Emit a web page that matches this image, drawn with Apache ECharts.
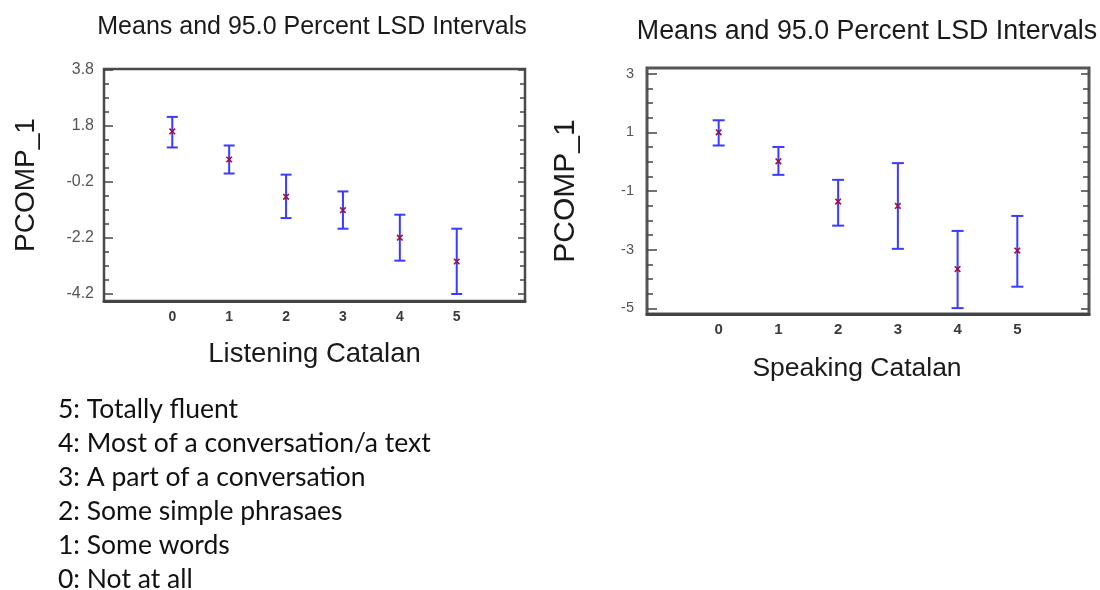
<!DOCTYPE html>
<html>
<head>
<meta charset="utf-8">
<script src="https://cdn.jsdelivr.net/npm/echarts@6/dist/echarts.min.js"></script>
<style>
  html, body { margin: 0; padding: 0; background: #ffffff; }
  #chart { width: 1100px; height: 590px; }
</style>
</head>
<body>
<div id="chart"></div>
<script>
// Fluency levels on the x axis
const levels = [0, 1, 2, 3, 4, 5];

// Listening Catalan: group means with 95% LSD interval bounds
const listeningMean  = [1.60, 0.60, -0.73, -1.21, -2.19, -3.04];
const listeningLower = [1.03, 0.10, -1.49, -1.87, -3.01, -4.20];
const listeningUpper = [2.12, 1.10, 0.06, -0.54, -1.37, -1.87];

// Speaking Catalan: group means with 95% LSD interval bounds
const speakingMean  = [1.00, 0.01, -1.36, -1.51, -3.66, -3.03];
const speakingLower = [0.55, -0.45, -2.18, -2.97, -4.99, -4.26];
const speakingUpper = [1.41, 0.50, -0.62, -0.05, -2.36, -1.85];

// Labelled y ticks of each panel
const listeningTicks = [3.8, 1.8, -0.2, -2.2, -4.2];
const speakingTicks = [3, 1, -1, -3, -5];

// Meaning of each level
const levelDescriptions = [
  '5: Totally fluent',
  '4: Most of a conversation/a text',
  '3: A part of a conversation',
  '2: Some simple phrasaes',
  '1: Some words',
  '0: Not at all'
];

const titleText = 'Means and 95.0 Percent LSD Intervals';
const yName = 'PCOMP_1';

function rows(mean, lower, upper) {
  return levels.map((lv, i) => [lv, lower[i], upper[i], mean[i]]);
}

function minorTicks(labels, step) {
  const lo = Math.min(...labels), hi = Math.max(...labels);
  const out = [];
  for (let k = 0; lo + k * step <= hi + 1e-9; k++) out.push(+(lo + k * step).toFixed(3));
  return out;
}

function yAxesFor(gridIndex, min, max, labels, decimals, opts) {
  const common = {
    type: 'value', gridIndex, min, max,
    splitLine: { show: false },
    axisLine: { show: false, onZero: false }
  };
  const minor = minorTicks(labels, 0.5);
  const tickStyle = { color: '#444', width: 1.5 };
  return [
    Object.assign({}, common, {
      position: 'left',
      name: yName, nameLocation: 'middle', nameGap: opts.nameGap,
      nameTextStyle: { fontFamily: 'Liberation Sans', fontSize: opts.nameSize, color: '#1a1a1a' },
      axisTick: { show: true, inside: true, length: opts.major, customValues: labels, lineStyle: tickStyle },
      axisLabel: { show: true, customValues: labels, margin: opts.labelMargin,
        formatter: v => Number(v).toFixed(decimals),
        fontFamily: 'Liberation Sans', fontSize: opts.labelSize, color: '#555' }
    }),
    Object.assign({}, common, {
      position: 'left',
      axisTick: { show: true, inside: true, length: opts.minor, customValues: minor, lineStyle: tickStyle },
      axisLabel: { show: false }
    }),
    Object.assign({}, common, {
      position: 'right',
      axisTick: { show: true, inside: true, length: opts.major - 2, customValues: labels, lineStyle: tickStyle },
      axisLabel: { show: false }
    }),
    Object.assign({}, common, {
      position: 'right',
      axisTick: { show: true, inside: true, length: opts.minor, customValues: minor, lineStyle: tickStyle },
      axisLabel: { show: false }
    })
  ];
}

function xAxisFor(gridIndex, name, opts) {
  return {
    type: 'value', gridIndex, min: -1.2, max: 6.2,
    splitLine: { show: false },
    axisLine: { show: true, onZero: false, lineStyle: { color: '#444', width: opts.lineWidth } },
    axisTick: { show: false },
    axisLabel: { show: true, customValues: levels, margin: opts.labelMargin,
      fontFamily: 'Liberation Sans', fontSize: opts.labelSize, fontWeight: 'bold', color: '#3a3a3a' },
    name, nameLocation: 'middle', nameGap: opts.nameGap,
    nameTextStyle: { fontFamily: 'Liberation Sans', fontSize: opts.nameSize, color: '#1a1a1a', padding: opts.namePad }
  };
}

function renderInterval(capHalf) {
  return function (params, api) {
    const x = api.value(0);
    const pLo = api.coord([x, api.value(1)]);
    const pHi = api.coord([x, api.value(2)]);
    const pM = api.coord([x, api.value(3)]);
    const blue = { stroke: '#3b3bff', lineWidth: 2 };
    const mark = { stroke: '#9a1040', lineWidth: 1.6 };
    const s = 2.8;
    return {
      type: 'group',
      children: [
        { type: 'line', shape: { x1: pLo[0], y1: pLo[1], x2: pHi[0], y2: pHi[1] }, style: blue },
        { type: 'line', shape: { x1: pHi[0] - capHalf, y1: pHi[1], x2: pHi[0] + capHalf, y2: pHi[1] }, style: blue },
        { type: 'line', shape: { x1: pLo[0] - capHalf, y1: pLo[1], x2: pLo[0] + capHalf, y2: pLo[1] }, style: blue },
        { type: 'line', shape: { x1: pM[0] - s, y1: pM[1] - s, x2: pM[0] + s, y2: pM[1] + s }, style: mark },
        { type: 'line', shape: { x1: pM[0] - s, y1: pM[1] + s, x2: pM[0] + s, y2: pM[1] - s }, style: mark }
      ]
    };
  };
}

const chart = echarts.init(document.getElementById('chart'), null, { renderer: 'canvas' });

const leftY = yAxesFor(0, -4.45, 3.83, listeningTicks, 1,
  { nameGap: 64, nameSize: 28, major: 9, minor: 5, labelMargin: 10, labelSize: 16 });
const rightY = yAxesFor(1, -5.19, 3.19, speakingTicks, 0,
  { nameGap: 66, nameSize: 30, major: 10, minor: 6, labelMargin: 13, labelSize: 14.5 });

const option = {
  backgroundColor: '#ffffff',
  animation: false,
  title: [
    { text: titleText, left: 312, top: 15, textAlign: 'center', padding: 0,
      textStyle: { fontFamily: 'Liberation Sans', fontSize: 25, fontWeight: 'normal', color: '#1a1a1a' } },
    { text: titleText, left: 867, top: 18, textAlign: 'center', padding: 0,
      textStyle: { fontFamily: 'Liberation Sans', fontSize: 26.8, fontWeight: 'normal', color: '#1a1a1a' } }
  ],
  grid: [
    { left: 104, top: 69, width: 421, height: 232, show: true, borderColor: '#4a4a4a', borderWidth: 2.5, backgroundColor: 'transparent' },
    { left: 647, top: 68, width: 442, height: 246, show: true, borderColor: '#555555', borderWidth: 3, backgroundColor: 'transparent' }
  ],
  xAxis: [
    xAxisFor(0, 'Listening Catalan', { lineWidth: 3, labelMargin: 9, labelSize: 14, nameGap: 39, nameSize: 27.5, namePad: 0 }),
    xAxisFor(1, 'Speaking Catalan', { lineWidth: 3, labelMargin: 8, labelSize: 15, nameGap: 41, nameSize: 26.5, namePad: [0, 22, 0, 0] })
  ],
  yAxis: leftY.concat(rightY),
  series: [
    { type: 'custom', xAxisIndex: 0, yAxisIndex: 0, renderItem: renderInterval(5.5),
      encode: { x: 0, y: [1, 2, 3] }, data: rows(listeningMean, listeningLower, listeningUpper), silent: true },
    { type: 'custom', xAxisIndex: 1, yAxisIndex: 4, renderItem: renderInterval(6),
      encode: { x: 0, y: [1, 2, 3] }, data: rows(speakingMean, speakingLower, speakingUpper), silent: true }
  ],
  graphic: levelDescriptions.map((t, i) => ({
    type: 'text', left: 58, top: 396 + i * 34,
    style: { text: t, fontFamily: 'Lato', fontSize: 26.5, fill: '#111111' }
  }))
};

chart.setOption(option);
</script>
</body>
</html>
